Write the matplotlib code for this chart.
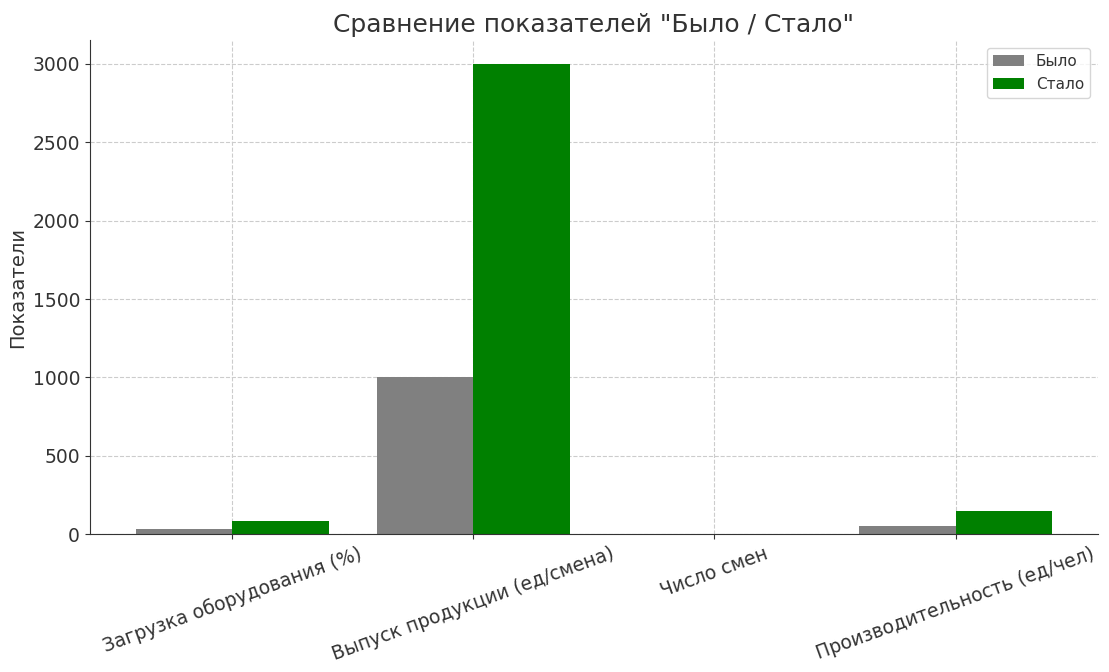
import matplotlib
matplotlib.use("Agg")
from matplotlib import pyplot as plt
import numpy as np

categories = ["Загрузка оборудования (%)", "Выпуск продукции (ед/смена)",
              "Число смен", "Производительность (ед/чел)"]
bylo = [35, 1000, 2, 50]
stalo = [85, 3000, 3, 150]

# тёмно-серый текст как в оригинале
plt.rcParams["text.color"] = "#333333"
plt.rcParams["axes.labelcolor"] = "#333333"
plt.rcParams["xtick.color"] = "#333333"
plt.rcParams["ytick.color"] = "#333333"
plt.rcParams["axes.edgecolor"] = "#333333"

x = np.arange(len(categories))
width = 0.4

fig, ax = plt.subplots(figsize=(11.09, 6.72), dpi=100)
plt.subplots_adjust(left=0.081, right=0.99, bottom=0.205, top=0.94)

ax.bar(x - width / 2, bylo, width, label="Было", color="grey")
ax.bar(x + width / 2, stalo, width, label="Стало", color="green")

ax.set_title('Сравнение показателей "Было / Стало"', fontsize=18)
ax.set_ylabel("Показатели", fontsize=14)
ax.set_xticks(x)
ax.set_xticklabels(categories, rotation=20, fontsize=13.5)
ax.tick_params(axis="y", labelsize=13.5)
ax.grid(True, linestyle="--", color="#cccccc", linewidth=0.8)
ax.set_axisbelow(True)
for s in ["top", "right"]:
    ax.spines[s].set_visible(False)
ax.legend(loc="upper right", fontsize=11)

fig.savefig("out.png", dpi=100)
